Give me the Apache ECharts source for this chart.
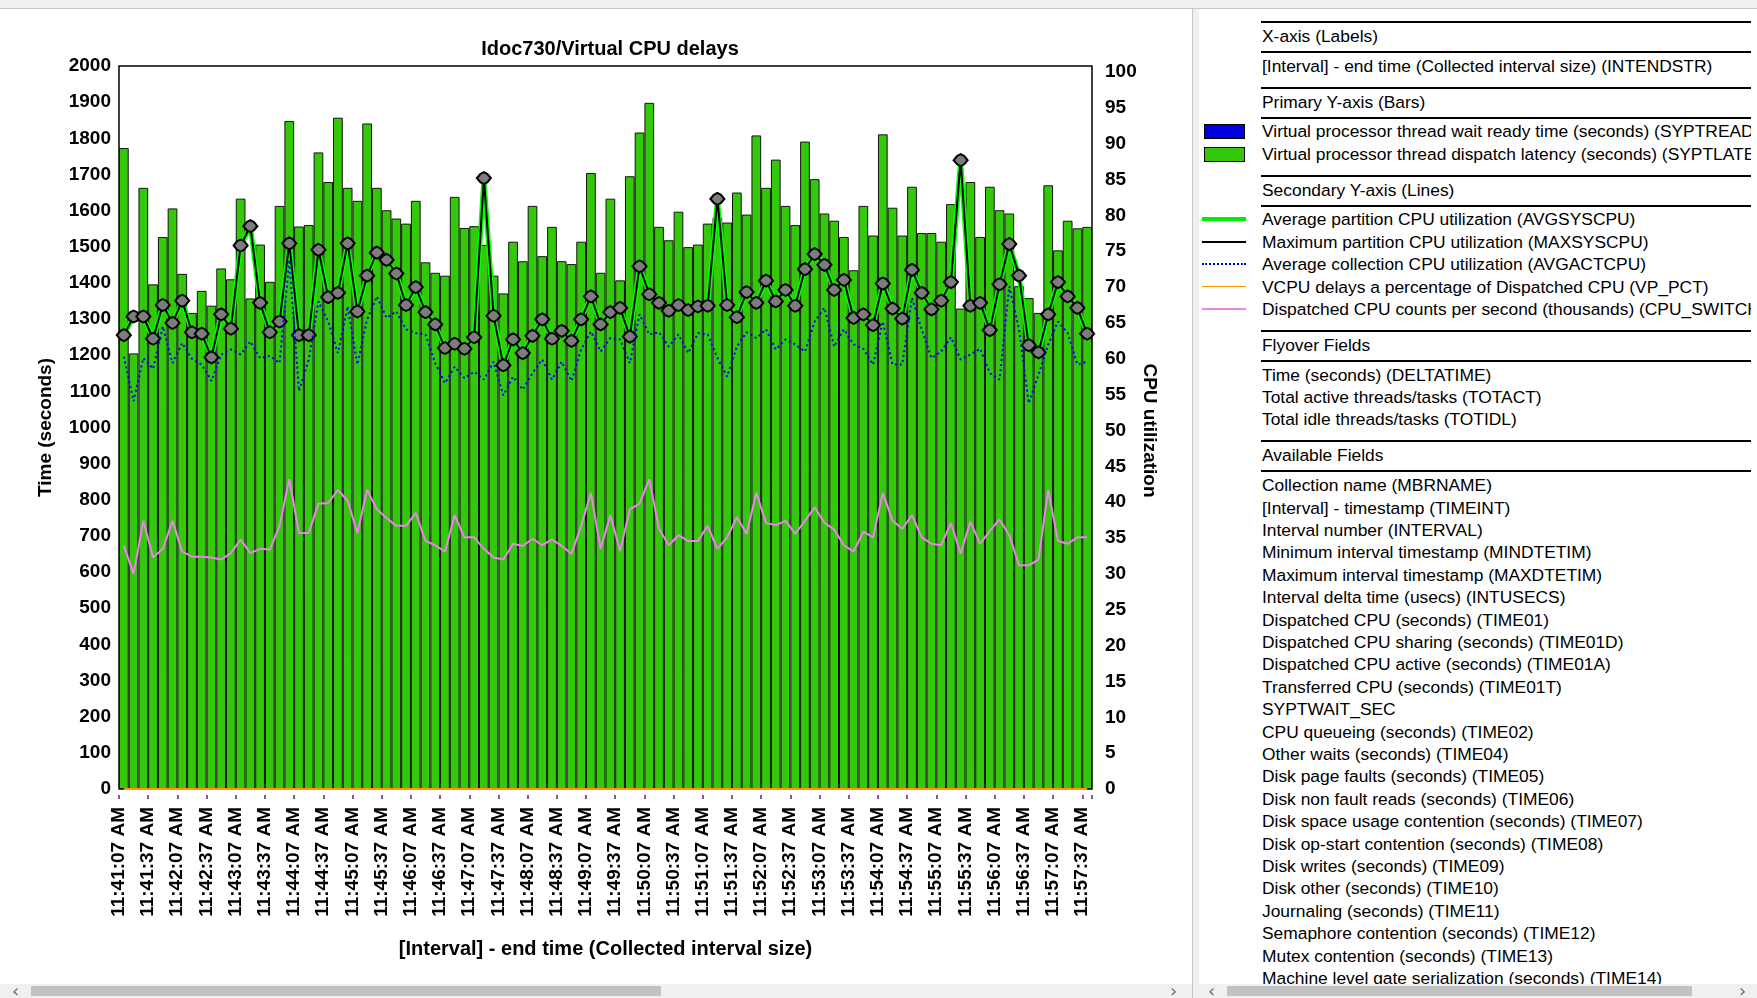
<!DOCTYPE html>
<html>
<head>
<meta charset="utf-8">
<title>Idoc730/Virtual CPU delays</title>
<script src="https://cdn.jsdelivr.net/npm/echarts@6/dist/echarts.min.js"></script>
<style>
  html, body { margin: 0; padding: 0; width: 1757px; height: 998px; overflow: hidden; background: #fff; font-family: "Liberation Sans", Arial, sans-serif; }
  #topbar { position: absolute; left: 0; top: 0; width: 1757px; height: 8px; background: #f0f0f0; border-bottom: 1px solid #c8c8c8; }
  #chart { position: absolute; left: 0; top: 9px; width: 1192px; height: 975px; }
  #divider { position: absolute; left: 1192px; top: 9px; width: 6px; height: 989px; background: #f0f0f0; border-left: 1px solid #c8c8c8; border-right: 1px solid #c8c8c8; }
  #side { position: absolute; left: 1199px; top: 0; width: 552px; height: 984px; overflow: hidden; }
  #sidebg { position: absolute; left: 1199px; top: 9px; width: 558px; height: 975px; background: #fff; }
  .row { position: absolute; left: 63px; white-space: nowrap; font-size: 17.4px; line-height: 20px; color: #000; }
  .rule { position: absolute; left: 62px; width: 490px; height: 2px; background: #000; }
  .sw { position: absolute; left: 5px; width: 40px; }
  .scroll { position: absolute; top: 984px; height: 14px; background: #f0f0f0; }
  .thumb { position: absolute; top: 2px; height: 10px; background: #c2c2c2; }
  .arrow { position: absolute; top: -4px; font-size: 18px; color: #6a6a6a; font-family: "DejaVu Sans", sans-serif; }
</style>
</head>
<body>
<div id="topbar"></div>
<div id="chart"></div>
<div id="divider"></div>
<div id="sidebg"></div>
<div id="side"></div>
<div class="scroll" style="left:0;width:1192px;">
  <span class="arrow" style="left:12px;">&lsaquo;</span>
  <div class="thumb" style="left:31px;width:630px;"></div>
  <span class="arrow" style="left:1170px;">&rsaquo;</span>
</div>
<div class="scroll" style="left:1199px;width:558px;">
  <span class="arrow" style="left:9px;">&lsaquo;</span>
  <div class="thumb" style="left:28px;width:465px;"></div>
  <span class="arrow" style="left:540px;">&rsaquo;</span>
</div>
<script>
// Interval end times (10-second collection intervals)
const intervalTimes = [
  '11:41:07 AM','11:41:17 AM','11:41:27 AM','11:41:37 AM','11:41:47 AM','11:41:57 AM',
  '11:42:07 AM','11:42:17 AM','11:42:27 AM','11:42:37 AM','11:42:47 AM','11:42:57 AM',
  '11:43:07 AM','11:43:17 AM','11:43:27 AM','11:43:37 AM','11:43:47 AM','11:43:57 AM',
  '11:44:07 AM','11:44:17 AM','11:44:27 AM','11:44:37 AM','11:44:47 AM','11:44:57 AM',
  '11:45:07 AM','11:45:17 AM','11:45:27 AM','11:45:37 AM','11:45:47 AM','11:45:57 AM',
  '11:46:07 AM','11:46:17 AM','11:46:27 AM','11:46:37 AM','11:46:47 AM','11:46:57 AM',
  '11:47:07 AM','11:47:17 AM','11:47:27 AM','11:47:37 AM','11:47:47 AM','11:47:57 AM',
  '11:48:07 AM','11:48:17 AM','11:48:27 AM','11:48:37 AM','11:48:47 AM','11:48:57 AM',
  '11:49:07 AM','11:49:17 AM','11:49:27 AM','11:49:37 AM','11:49:47 AM','11:49:57 AM',
  '11:50:07 AM','11:50:17 AM','11:50:27 AM','11:50:37 AM','11:50:47 AM','11:50:57 AM',
  '11:51:07 AM','11:51:17 AM','11:51:27 AM','11:51:37 AM','11:51:47 AM','11:51:57 AM',
  '11:52:07 AM','11:52:17 AM','11:52:27 AM','11:52:37 AM','11:52:47 AM','11:52:57 AM',
  '11:53:07 AM','11:53:17 AM','11:53:27 AM','11:53:37 AM','11:53:47 AM','11:53:57 AM',
  '11:54:07 AM','11:54:17 AM','11:54:27 AM','11:54:37 AM','11:54:47 AM','11:54:57 AM',
  '11:55:07 AM','11:55:17 AM','11:55:27 AM','11:55:37 AM','11:55:47 AM','11:55:57 AM',
  '11:56:07 AM','11:56:17 AM','11:56:27 AM','11:56:37 AM','11:56:47 AM','11:56:57 AM',
  '11:57:07 AM','11:57:17 AM','11:57:27 AM','11:57:37 AM'
];

// Virtual processor thread dispatch latency (seconds) - SYPTLATE
const dispatchLatency = [
  1773,1205,1663,1396,1527,1606,1425,1317,1378,1337,
  1440,1410,1633,1357,1506,1403,1613,1848,1556,1560,
  1761,1679,1857,1663,1627,1841,1663,1601,1578,1564,
  1627,1457,1428,1420,1638,1552,1557,1505,1420,1371,
  1514,1460,1613,1474,1555,1460,1452,1514,1704,1428,
  1633,1407,1695,1816,1898,1555,1518,1597,1499,1506,
  1564,1580,1567,1650,1589,1808,1663,1741,1613,1560,
  1791,1687,1592,1572,1527,1435,1613,1531,1811,1608,
  1531,1666,1538,1538,1514,1618,1329,1679,1527,1666,
  1601,1592,1391,1358,1317,1670,1490,1572,1551,1555
];

// Maximum partition CPU utilization - MAXSYSCPU
const maxPartitionCpu = [
  63.3,65.9,65.9,62.8,67.5,65.0,68.1,63.7,63.5,60.2,
  66.2,64.2,75.8,78.5,67.8,63.7,65.2,76.1,63.3,63.3,
  75.2,68.6,69.2,76.1,66.6,71.6,74.8,73.8,71.9,67.5,
  70.0,66.5,64.8,61.5,62.1,61.4,63.0,85.2,66.0,59.1,
  62.7,60.8,63.2,65.5,62.8,63.9,62.5,65.5,68.7,64.8,
  66.5,67.1,63.1,72.9,69.0,67.8,66.7,67.5,66.8,67.3,
  67.4,82.3,67.5,65.8,69.3,67.8,70.9,68.0,69.6,67.4,
  72.5,74.6,73.1,69.6,71.0,65.7,66.2,64.7,70.5,67.0,
  65.6,72.4,69.2,66.9,68.1,70.7,87.7,67.4,67.8,64.0,
  70.4,76.0,71.6,61.9,60.9,66.2,70.7,68.7,67.1,63.5
];

// Average partition CPU utilization - AVGSYSCPU (one sample per interval, so it tracks the maximum)
const avgPartitionCpu = maxPartitionCpu;

// Average collection CPU utilization - AVGACTCPU
const avgCollectionCpu = [
  60.3,54.1,60.1,58.6,64.5,59.4,62.2,60.0,59.2,56.9,
  60.6,61.3,60.6,62.4,60.1,60.4,59.4,73.8,55.5,59.9,
  68.0,65.2,60.8,67.3,59.2,65.5,68.7,65.7,66.6,64.1,
  63.6,63.4,59.4,56.6,58.9,57.3,58.2,57.1,59.6,54.9,
  57.5,55.7,58.0,59.9,57.1,59.6,56.9,61.3,63.8,61.0,
  62.9,62.7,59.4,66.2,63.4,63.7,61.7,63.4,60.8,63.6,
  63.4,60.1,57.5,61.7,63.7,62.9,64.1,61.3,62.7,62.0,
  61.0,65.2,67.1,61.7,64.1,62.0,61.4,59.2,65.2,59.2,
  59.2,68.5,64.1,60.1,61.0,63.0,59.9,60.6,61.4,58.0,
  57.1,70.1,64.1,53.8,57.8,62.0,65.2,63.6,59.2,59.6
];

// VCPU delays as a percentage of dispatched CPU - VP_PCT
const vcpuDelayPct = [
  0,0,0,0,0,0,0,0,0,0, 0,0,0,0,0,0,0,0,0,0,
  0,0,0,0,0,0,0,0,0,0, 0,0,0,0,0,0,0,0,0,0,
  0,0,0,0,0,0,0,0,0,0, 0,0,0,0,0,0,0,0,0,0,
  0,0,0,0,0,0,0,0,0,0, 0,0,0,0,0,0,0,0,0,0,
  0,0,0,0,0,0,0,0,0,0, 0,0,0,0,0,0,0,0,0,0
];

// Dispatched CPU counts per second (thousands) - CPU_SWITCH
const cpuSwitches = [
  33.9,30.0,37.4,32.3,33.5,37.4,33.1,32.4,32.4,32.3,
  32.0,32.9,34.8,32.9,33.5,33.4,36.7,43.2,35.7,35.7,
  39.8,39.9,41.7,40.2,35.7,41.7,39.0,37.8,36.7,36.7,
  38.5,34.6,34.0,33.1,38.2,35.1,35.1,33.5,32.3,32.0,
  34.2,33.9,34.9,34.0,34.8,33.9,32.8,36.7,41.3,33.5,
  38.2,33.2,39.0,39.8,43.2,36.3,34.0,35.4,34.6,34.6,
  36.7,33.5,35.1,37.9,35.6,41.3,37.1,36.8,37.4,35.6,
  37.4,39.3,37.1,36.2,34.0,33.1,35.9,35.1,41.3,37.4,
  36.3,38.2,35.1,34.2,34.0,37.1,32.8,37.3,34.2,36.0,
  37.6,35.4,31.2,31.2,32.0,41.7,34.6,34.2,35.1,35.1
];

// Axis ranges
const timeAxis = { min: 0, max: 2000, interval: 100 };
const cpuAxis = { min: 0, max: 100, interval: 5 };

// Side panel content
const sections = [
  { head: 'X-axis (Labels)', items: [{ text: '[Interval] - end time (Collected interval size) (INTENDSTR)' }] },
  { head: 'Primary Y-axis (Bars)', items: [
    { text: 'Virtual processor thread wait ready time (seconds) (SYPTREADY)', box: '#0000e0' },
    { text: 'Virtual processor thread dispatch latency (seconds) (SYPTLATENCY)', box: '#33c80a' }
  ] },
  { head: 'Secondary Y-axis (Lines)', items: [
    { text: 'Average partition CPU utilization (AVGSYSCPU)', line: '4px solid #00ee00' },
    { text: 'Maximum partition CPU utilization (MAXSYSCPU)', line: '2px solid #000' },
    { text: 'Average collection CPU utilization (AVGACTCPU)', line: '2px dotted #0000ff' },
    { text: 'VCPU delays a percentage of Dispatched CPU (VP_PCT)', line: '1px solid #ff9900' },
    { text: 'Dispatched CPU counts per second (thousands) (CPU_SWITCHES)', line: '2px solid #ee82ee' }
  ] },
  { head: 'Flyover Fields', items: [
    { text: 'Time (seconds) (DELTATIME)' },
    { text: 'Total active threads/tasks (TOTACT)' },
    { text: 'Total idle threads/tasks (TOTIDL)' }
  ] },
  { head: 'Available Fields', items: [
    'Collection name (MBRNAME)', '[Interval] - timestamp (TIMEINT)', 'Interval number (INTERVAL)',
    'Minimum interval timestamp (MINDTETIM)', 'Maximum interval timestamp (MAXDTETIM)',
    'Interval delta time (usecs) (INTUSECS)', 'Dispatched CPU (seconds) (TIME01)',
    'Dispatched CPU sharing (seconds) (TIME01D)', 'Dispatched CPU active (seconds) (TIME01A)',
    'Transferred CPU (seconds) (TIME01T)', 'SYPTWAIT_SEC', 'CPU queueing (seconds) (TIME02)',
    'Other waits (seconds) (TIME04)', 'Disk page faults (seconds) (TIME05)',
    'Disk non fault reads (seconds) (TIME06)', 'Disk space usage contention (seconds) (TIME07)',
    'Disk op-start contention (seconds) (TIME08)', 'Disk writes (seconds) (TIME09)',
    'Disk other (seconds) (TIME10)', 'Journaling (seconds) (TIME11)',
    'Semaphore contention (seconds) (TIME12)', 'Mutex contention (seconds) (TIME13)',
    'Machine level gate serialization (seconds) (TIME14)'
  ].map(function (t) { return { text: t }; }) }
];

// Build the side panel (y values are text centre lines)
(function buildSide() {
  const side = document.getElementById('side');
  const rowH = 22.4, headToItem = 29.8, itemToHead = 35.85;
  function rule(y) {
    const r = document.createElement('div');
    r.className = 'rule'; r.style.top = (y - 1) + 'px'; side.appendChild(r);
  }
  function text(y, t) {
    const d = document.createElement('div');
    d.className = 'row'; d.textContent = t; d.style.top = (y - 10) + 'px'; side.appendChild(d);
  }
  let y = 35.9;
  sections.forEach(function (sec) {
    rule(y - 14);
    text(y, sec.head);
    rule(y + 16);
    y += headToItem;
    sec.items.forEach(function (it, i) {
      text(y, it.text);
      if (it.box) {
        const b = document.createElement('div');
        b.className = 'sw';
        b.style.top = (y - 7) + 'px'; b.style.height = '13px'; b.style.width = '39px';
        b.style.background = it.box; b.style.border = '1px solid #000';
        side.appendChild(b);
      }
      if (it.line) {
        const l = document.createElement('div');
        l.className = 'sw';
        const w = parseInt(it.line, 10);
        l.style.top = (y - w / 2) + 'px'; l.style.height = '0'; l.style.left = '3px'; l.style.width = '44px';
        l.style.borderTop = it.line;
        side.appendChild(l);
      }
      if (i < sec.items.length - 1) y += rowH;
    });
    y += itemToHead;
  });
})();

const chart = echarts.init(document.getElementById('chart'), null, { renderer: 'canvas' });
const boldFont = { fontFamily: '"Liberation Sans", Arial, sans-serif', fontWeight: 'bold', color: '#000' };

chart.setOption({
  animation: false,
  backgroundColor: '#fff',
  title: {
    text: 'Idoc730/Virtual CPU delays',
    left: 605, top: 25, textAlign: 'center',
    textStyle: Object.assign({ fontSize: 20 }, boldFont)
  },
  grid: [
    { left: 119, right: 100, top: 57, bottom: 195, show: true, borderColor: '#000', borderWidth: 1.5, backgroundColor: 'transparent' },
    { left: 119, right: 100, top: 63, bottom: 195 }
  ],
  xAxis: [
    {
      type: 'category', gridIndex: 0, data: intervalTimes, boundaryGap: true,
      name: '[Interval] - end time (Collected interval size)',
      nameLocation: 'middle', nameGap: 150,
      nameTextStyle: Object.assign({ fontSize: 20 }, boldFont),
      axisLine: { show: false },
      axisTick: { show: true, interval: 2, alignWithLabel: false, length: 10,
        lineStyle: { color: '#4b2a6a', width: 1.5, type: [4, 20], dashOffset: 18 } },
      axisLabel: Object.assign({ interval: 2, rotate: 90, margin: 18, fontSize: 19,
        verticalAlign: 'bottom', lineHeight: 10 }, boldFont),
      splitLine: { show: false }
    },
    {
      type: 'category', gridIndex: 1, data: intervalTimes, boundaryGap: true,
      show: false
    }
  ],
  yAxis: [
    {
      type: 'value', gridIndex: 0, min: timeAxis.min, max: timeAxis.max, interval: timeAxis.interval,
      name: 'Time (seconds)', nameLocation: 'middle', nameGap: 64, nameRotate: 90,
      nameTextStyle: Object.assign({ fontSize: 19 }, boldFont),
      axisLine: { show: false }, axisTick: { show: false }, splitLine: { show: false },
      axisLabel: Object.assign({ fontSize: 19, margin: 8, formatter: function (v) { return String(v); } }, boldFont)
    },
    {
      type: 'value', gridIndex: 1, position: 'right', min: cpuAxis.min, max: cpuAxis.max, interval: cpuAxis.interval,
      name: 'CPU utilization', nameLocation: 'middle', nameGap: 48, nameRotate: -90,
      nameMoveOverlap: false,
      nameTextStyle: Object.assign({ fontSize: 19 }, boldFont),
      axisLine: { show: false }, axisTick: { show: false }, splitLine: { show: false },
      axisLabel: Object.assign({ fontSize: 19, margin: 13 }, boldFont)
    }
  ],
  series: [
    {
      name: 'Virtual processor thread dispatch latency (seconds)', type: 'bar',
      xAxisIndex: 0, yAxisIndex: 0, data: dispatchLatency,
      barCategoryGap: '0%',
      itemStyle: { color: '#33c80a', borderColor: '#141414', borderWidth: 1 }
    },
    {
      name: 'Average partition CPU utilization', type: 'line', xAxisIndex: 1, yAxisIndex: 1,
      data: avgPartitionCpu, showSymbol: false, z: 3,
      lineStyle: { color: '#00ff00', width: 5 }
    },
    {
      name: 'Maximum partition CPU utilization', type: 'line', xAxisIndex: 1, yAxisIndex: 1,
      data: maxPartitionCpu, z: 4,
      symbol: 'path://M0 5 L2.5 1.5 L5 0 L7.5 1.5 L10 5 L7.5 8.5 L5 10 L2.5 8.5 Z',
      symbolSize: [14, 12], showSymbol: true, showAllSymbol: true,
      lineStyle: { color: '#000', width: 2 },
      itemStyle: { color: '#7c7c7c', borderColor: '#000', borderWidth: 2 }
    },
    {
      name: 'Average collection CPU utilization', type: 'line', xAxisIndex: 1, yAxisIndex: 1,
      data: avgCollectionCpu, showSymbol: false, z: 5,
      lineStyle: { color: '#0000ff', width: 2, type: [2, 3] }
    },
    {
      name: 'VCPU delays a percentage of Dispatched CPU', type: 'line', xAxisIndex: 1, yAxisIndex: 1,
      data: vcpuDelayPct, showSymbol: false, z: 5,
      lineStyle: { color: '#ff9900', width: 2 }
    },
    {
      name: 'Dispatched CPU counts per second (thousands)', type: 'line', xAxisIndex: 1, yAxisIndex: 1,
      data: cpuSwitches, showSymbol: false, z: 5,
      lineStyle: { color: '#ee82ee', width: 2 }
    }
  ]
});
</script>
</body>
</html>
